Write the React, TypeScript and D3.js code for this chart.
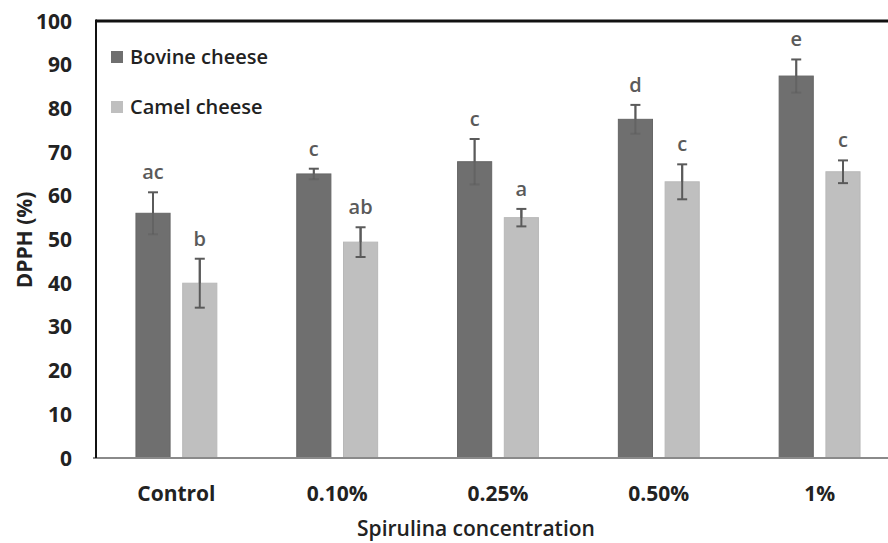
import React from "react";
import * as d3 from "d3";

const categories = ["Control", "0.10%", "0.25%", "0.50%", "1%"];
const seriesNames = ["Bovine cheese", "Camel cheese"];
const bovine = [56.0, 65.0, 67.8, 77.5, 87.4];
const bovineErr = [4.8, 1.2, 5.2, 3.3, 3.8];
const bovineLetters = ["ac", "c", "c", "d", "e"];
const camel = [40.0, 49.4, 55.0, 63.2, 65.5];
const camelErr = [5.6, 3.4, 2.0, 4.0, 2.6];
const camelLetters = ["b", "ab", "a", "c", "c"];
const yTicks = [0, 10, 20, 30, 40, 50, 60, 70, 80, 90, 100];

const W = 888;
const H = 543;
const M = { left: 96, right: 900, top: 21, bottom: 458 };
const FONT = "'Open Sans', sans-serif";
const colors = ["#6f6f6f", "#bfbfbf"];

export default function App() {
  const x = d3.scaleBand<string>().domain(categories).range([M.left, M.right]).paddingInner(0.497).paddingOuter(0.2485);
  const xs = d3.scaleBand<string>().domain(seriesNames).range([0, x.bandwidth()]).paddingInner(0.27);
  const y = d3.scaleLinear().domain([0, 100]).range([M.bottom, M.top]);

  const series = [
    { name: seriesNames[0], vals: bovine, errs: bovineErr, letters: bovineLetters },
    { name: seriesNames[1], vals: camel, errs: camelErr, letters: camelLetters },
  ];

  return (
    <svg width={W} height={H} style={{ position: "absolute", left: 0, top: 0, background: "#fff" }} fontFamily={FONT}>
      <rect x={0} y={0} width={W} height={H} fill="#fff" />
      {series.map((s, si) =>
        categories.map((c, i) => {
          const bx = (x(c) as number) + (xs(s.name) as number);
          const bw = xs.bandwidth();
          const cx = bx + bw / 2;
          const top = y(s.vals[i]);
          const eTop = y(s.vals[i] + s.errs[i]);
          const eBot = y(s.vals[i] - s.errs[i]);
          return (
            <g key={s.name + c}>
              <rect x={bx} y={top} width={bw} height={M.bottom - top} fill={colors[si]} stroke={si === 0 ? "#666" : "#b8b8b8"} strokeWidth={1} />
              <line x1={cx} x2={cx} y1={eTop} y2={eBot} stroke="#5a5a5a" strokeWidth={2} opacity={si === 0 ? 0.55 : 1} />
              <line x1={cx} x2={cx} y1={eTop} y2={top} stroke="#5a5a5a" strokeWidth={2} />
              <line x1={cx - 5} x2={cx + 5} y1={eTop} y2={eTop} stroke="#5a5a5a" strokeWidth={2} />
              <line x1={cx - 5} x2={cx + 5} y1={eBot} y2={eBot} stroke="#5a5a5a" strokeWidth={2} opacity={si === 0 ? 0.4 : 1} />
              <text x={cx} y={eTop - 13} textAnchor="middle" fontSize={20} fontWeight={600} fill="#5a5a5a">{s.letters[i]}</text>
            </g>
          );
        })
      )}
      <line x1={M.left - 3} x2={W} y1={M.bottom} y2={M.bottom} stroke="#8a8a8a" strokeWidth={2} />
      <line x1={M.left} x2={W} y1={M.top} y2={M.top} stroke="#111" strokeWidth={3} />
      <line x1={M.left} x2={M.left} y1={M.top - 1.5} y2={M.bottom} stroke="#111" strokeWidth={2} />
      {yTicks.map((t) => (
        <text key={t} x={72} y={y(t)} dy="0.36em" textAnchor="end" fontSize={21} fontWeight={700} fill="#222">{t}</text>
      ))}
      {categories.map((c) => (
        <text key={c} x={(x(c) as number) + x.bandwidth() / 2} y={493} dy="0.36em" textAnchor="middle" fontSize={21} fontWeight={700} fill="#222">{c}</text>
      ))}
      <text x={476} y={528} dy="0.36em" textAnchor="middle" fontSize={21} fontWeight={600} fill="#222">Spirulina concentration</text>
      <text transform={`translate(24,240) rotate(-90)`} dy="0.36em" textAnchor="middle" fontSize={21} fontWeight={700} fill="#222">DPPH (%)</text>
      {seriesNames.map((n, i) => (
        <g key={n} transform={`translate(111,${57 + i * 50})`}>
          <rect x={0} y={-6} width={12} height={12} fill={colors[i]} />
          <text x={19} y={0} dy="0.36em" fontSize={20} fontWeight={600} fill="#222">{n}</text>
        </g>
      ))}
    </svg>
  );
}
